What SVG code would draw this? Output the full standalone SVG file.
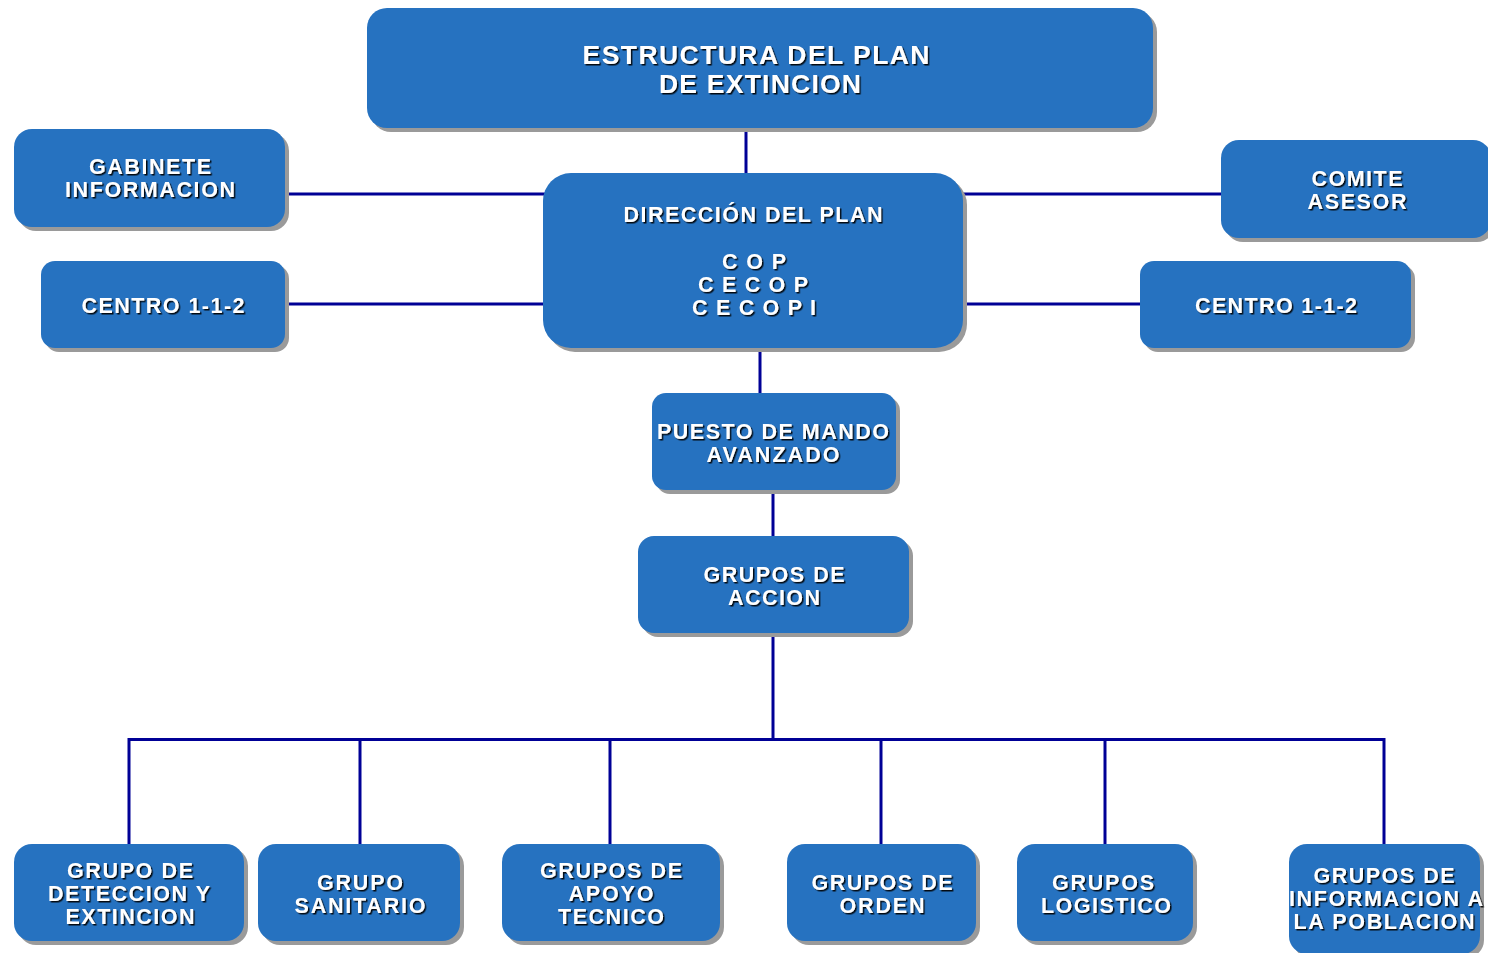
<svg xmlns="http://www.w3.org/2000/svg" width="1488" height="953" viewBox="0 0 1488 953">
<defs>
<filter id="ts" x="-5%" y="-30%" width="110%" height="160%">
<feDropShadow dx="1.5" dy="1.5" stdDeviation="0.3" flood-color="#000" flood-opacity="0.9"/>
</filter>
<style>
.box{fill:#2672C0;}
.sh{fill:#9a9a9a;}
.t{font-family:"Liberation Sans",Arial,sans-serif;font-weight:bold;font-size:21.5px;fill:#fff;text-anchor:middle;filter:url(#ts);}
.tt{font-size:26.5px;}
.c{stroke:#000096;stroke-width:3;fill:none;}
</style>
</defs>
<rect width="1488" height="953" fill="#fff"/>
<g id="connectors">
<line class="c" x1="746" y1="128" x2="746" y2="175"/>
<line class="c" x1="285" y1="194" x2="545" y2="194"/>
<line class="c" x1="960" y1="194" x2="1222" y2="194"/>
<line class="c" x1="285" y1="304" x2="545" y2="304"/>
<line class="c" x1="960" y1="304" x2="1141" y2="304"/>
<line class="c" x1="760" y1="346" x2="760" y2="394"/>
<line class="c" x1="773" y1="490" x2="773" y2="537"/>
<line class="c" x1="773" y1="633" x2="773" y2="740"/>
<polyline class="c" points="129,845 129,739.5 1384,739.5 1384,845"/>
<line class="c" x1="360" y1="739" x2="360" y2="845"/>
<line class="c" x1="610" y1="739" x2="610" y2="845"/>
<line class="c" x1="881" y1="739" x2="881" y2="845"/>
<line class="c" x1="1105" y1="739" x2="1105" y2="845"/>
</g>
<g id="titulo">
<rect class="sh" x="371" y="12" width="786" height="120" rx="20"/>
<rect class="box" x="367" y="8" width="786" height="120" rx="20"/>
<text class="t tt" x="756" y="64" textLength="347" lengthAdjust="spacing">ESTRUCTURA DEL PLAN</text>
<text class="t tt" x="760" y="93" textLength="202" lengthAdjust="spacing">DE EXTINCION</text>
</g>
<g id="gabinete">
<rect class="sh" x="18" y="133" width="271" height="98" rx="18"/>
<rect class="box" x="14" y="129" width="271" height="98" rx="18"/>
<text class="t" x="150" y="174" textLength="122" lengthAdjust="spacing">GABINETE</text>
<text class="t" x="150" y="197" textLength="170" lengthAdjust="spacing">INFORMACION</text>
</g>
<g id="centro-izq">
<rect class="sh" x="45" y="265" width="244" height="87" rx="14"/>
<rect class="box" x="41" y="261" width="244" height="87" rx="14"/>
<text class="t" x="163" y="313" textLength="163" lengthAdjust="spacing">CENTRO 1-1-2</text>
</g>
<g id="direccion">
<rect class="sh" x="547" y="177" width="420" height="175" rx="28"/>
<rect class="box" x="543" y="173" width="420" height="175" rx="28"/>
<text class="t" x="753" y="222" textLength="259" lengthAdjust="spacing">DIRECCIÓN DEL PLAN</text>
<text class="t" x="754" y="269" textLength="64" lengthAdjust="spacing">C O P</text>
<text class="t" x="753" y="292" textLength="110" lengthAdjust="spacing">C E C O P</text>
<text class="t" x="754" y="315" textLength="124" lengthAdjust="spacing">C E C O P I</text>
</g>
<g id="comite">
<rect class="sh" x="1225" y="144" width="270" height="98" rx="18"/>
<rect class="box" x="1221" y="140" width="270" height="98" rx="18"/>
<text class="t" x="1357" y="186" textLength="91" lengthAdjust="spacing">COMITE</text>
<text class="t" x="1357" y="209" textLength="99" lengthAdjust="spacing">ASESOR</text>
</g>
<g id="centro-der">
<rect class="sh" x="1144" y="265" width="271" height="87" rx="14"/>
<rect class="box" x="1140" y="261" width="271" height="87" rx="14"/>
<text class="t" x="1276" y="313" textLength="162" lengthAdjust="spacing">CENTRO 1-1-2</text>
</g>
<g id="puesto">
<rect class="sh" x="656" y="397" width="244" height="97" rx="14"/>
<rect class="box" x="652" y="393" width="244" height="97" rx="14"/>
<text class="t" x="773" y="439" textLength="232" lengthAdjust="spacing">PUESTO DE MANDO</text>
<text class="t" x="773" y="462" textLength="133" lengthAdjust="spacing">AVANZADO</text>
</g>
<g id="accion">
<rect class="sh" x="642" y="540" width="271" height="97" rx="16"/>
<rect class="box" x="638" y="536" width="271" height="97" rx="16"/>
<text class="t" x="774" y="582" textLength="141" lengthAdjust="spacing">GRUPOS DE</text>
<text class="t" x="774" y="605" textLength="92" lengthAdjust="spacing">ACCION</text>
</g>
<g id="deteccion">
<rect class="sh" x="18" y="848" width="230" height="97" rx="18"/>
<rect class="box" x="14" y="844" width="230" height="97" rx="18"/>
<text class="t" x="130" y="878" textLength="126" lengthAdjust="spacing">GRUPO DE</text>
<text class="t" x="129" y="901" textLength="162" lengthAdjust="spacing">DETECCION Y</text>
<text class="t" x="130" y="924" textLength="129" lengthAdjust="spacing">EXTINCION</text>
</g>
<g id="sanitario">
<rect class="sh" x="262" y="848" width="202" height="97" rx="18"/>
<rect class="box" x="258" y="844" width="202" height="97" rx="18"/>
<text class="t" x="360" y="890" textLength="86" lengthAdjust="spacing">GRUPO</text>
<text class="t" x="360" y="913" textLength="131" lengthAdjust="spacing">SANITARIO</text>
</g>
<g id="apoyo">
<rect class="sh" x="506" y="848" width="218" height="97" rx="18"/>
<rect class="box" x="502" y="844" width="218" height="97" rx="18"/>
<text class="t" x="611" y="878" textLength="142" lengthAdjust="spacing">GRUPOS DE</text>
<text class="t" x="611" y="901" textLength="85" lengthAdjust="spacing">APOYO</text>
<text class="t" x="611" y="924" textLength="106" lengthAdjust="spacing">TECNICO</text>
</g>
<g id="orden">
<rect class="sh" x="791" y="848" width="189" height="97" rx="18"/>
<rect class="box" x="787" y="844" width="189" height="97" rx="18"/>
<text class="t" x="882" y="890" textLength="141" lengthAdjust="spacing">GRUPOS DE</text>
<text class="t" x="882" y="913" textLength="85" lengthAdjust="spacing">ORDEN</text>
</g>
<g id="logistico">
<rect class="sh" x="1021" y="848" width="176" height="97" rx="18"/>
<rect class="box" x="1017" y="844" width="176" height="97" rx="18"/>
<text class="t" x="1103" y="890" textLength="102" lengthAdjust="spacing">GRUPOS</text>
<text class="t" x="1106" y="913" textLength="130" lengthAdjust="spacing">LOGISTICO</text>
</g>
<g id="informacion">
<rect class="sh" x="1293" y="848" width="191" height="110" rx="18"/>
<rect class="box" x="1289" y="844" width="191" height="110" rx="18"/>
<text class="t" x="1384" y="883" textLength="141" lengthAdjust="spacing">GRUPOS DE</text>
<text class="t" x="1386" y="906" textLength="194" lengthAdjust="spacing">INFORMACION A</text>
<text class="t" x="1384" y="929" textLength="181" lengthAdjust="spacing">LA POBLACION</text>
</g>
</svg>
